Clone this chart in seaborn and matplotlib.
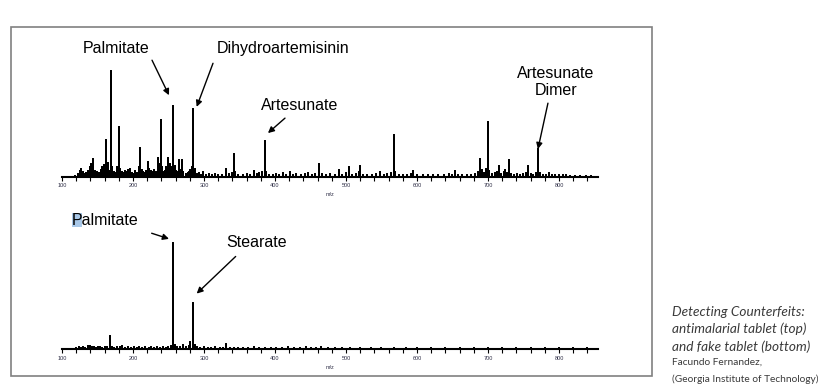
import numpy as np
import pandas as pd
import seaborn as sns
import matplotlib.pyplot as plt
from matplotlib.patches import Rectangle
from matplotlib.ticker import MultipleLocator

# Peak lists (m/z, relative intensity, tallest = 100)
top_mz = [118, 122, 125, 127, 129, 131, 134, 137, 139, 141, 143, 144, 146, 148, 150, 152, 155, 157, 159,
          162, 163, 165, 167, 169, 171, 173, 175, 178, 180, 182, 184, 186, 189, 191, 193, 195, 196, 198,
          201, 203, 205, 208, 210, 212, 214, 217, 219, 221, 223, 225, 227, 229, 231, 233, 235, 237, 239,
          241, 243, 245, 247, 249, 250, 252, 254, 257, 259, 261, 263, 265, 267, 269, 271, 274, 277, 279,
          281, 283, 285, 287, 290, 293, 296, 299, 303, 307, 311, 315, 320, 325, 331, 335, 339, 342, 344,
          348, 355, 360, 365, 370, 374, 378, 382, 386, 388, 392, 397, 401, 406, 411, 415, 421, 425, 430,
          436, 442, 447, 452, 457, 462, 466, 472, 478, 484, 490, 495, 500, 504, 508, 514, 518, 520, 524,
          530, 536, 542, 548, 553, 558, 563, 567, 569, 575, 580, 586, 592, 595, 600, 608, 615, 622, 630,
          638, 645, 650, 653, 658, 664, 670, 676, 682, 686, 689, 691, 694, 697, 700, 702, 706, 710, 713,
          716, 719, 722, 724, 727, 729, 732, 736, 741, 745, 750, 754, 757, 760, 764, 768, 771, 773, 777,
          782, 786, 790, 795, 800, 806, 810, 815, 822, 830, 838, 845]
top_int = [1, 3, 6, 8, 5, 3, 4, 6, 9, 12, 10, 17, 6, 3, 5, 4, 7, 9, 11,
           35, 8, 13, 6, 100, 9, 5, 4, 9, 47, 8, 5, 4, 6, 5, 7, 6, 8, 4,
           3, 6, 4, 9, 27, 7, 5, 4, 6, 14, 8, 6, 5, 7, 4, 5, 18, 12, 54,
           9, 5, 6, 9, 14, 18, 12, 9, 67, 10, 6, 5, 16, 7, 16, 5, 3, 4, 5,
           7, 9, 64, 8, 3, 4, 2, 5, 2, 3, 2, 3, 2, 2, 8, 3, 4, 22, 5,
           2, 2, 3, 2, 6, 3, 4, 5, 34, 5, 2, 2, 3, 2, 4, 2, 5, 2, 3,
           2, 3, 4, 2, 3, 12, 3, 2, 3, 2, 7, 2, 4, 9, 2, 3, 5, 10, 2,
           2, 2, 3, 5, 2, 3, 4, 40, 5, 2, 2, 2, 3, 6, 2, 2, 2, 2, 2,
           2, 3, 2, 6, 2, 2, 2, 2, 3, 5, 17, 7, 4, 8, 52, 6, 3, 4, 5,
           10, 3, 5, 7, 4, 16, 3, 2, 3, 2, 3, 4, 10, 3, 2, 4, 26, 4, 2,
           2, 4, 2, 2, 2, 2, 2, 1, 1, 1, 1, 1]

bottom_mz = [120, 124, 127, 130, 133, 137, 140, 142, 145, 148, 151, 154, 157, 160, 163, 167, 170, 173,
             177, 181, 185, 189, 193, 197, 201, 205, 209, 213, 217, 222, 226, 230, 234, 238, 242, 246,
             250, 253, 256, 257, 259, 262, 266, 271, 275, 279, 281, 284, 285, 287, 290, 295, 300, 305,
             310, 316, 322, 327, 331, 336, 342, 348, 355, 362, 370, 378, 386, 395, 402, 410, 418, 427,
             435, 443, 451, 458, 465, 475, 485, 495, 505, 520, 535, 550, 568, 585, 600, 620, 640, 660,
             680, 700, 720, 740, 760, 780, 800, 820, 840]
bottom_int = [1, 2, 1, 2, 1, 3, 3, 2, 2, 1, 2, 2, 1, 2, 2, 13, 2, 1,
              2, 2, 3, 1, 2, 1, 2, 1, 2, 1, 2, 1, 2, 1, 2, 1, 2, 1,
              2, 3, 18, 100, 4, 2, 2, 4, 2, 3, 7, 7, 44, 4, 2, 1, 2, 1,
              1, 2, 1, 1, 5, 1, 1, 1, 1, 1, 2, 1, 1, 1, 1, 1, 2, 1,
              1, 2, 1, 1, 2, 1, 1, 1, 1, 1, 1, 1, 1, 1, 1, 1, 1, 1,
              1, 1, 1, 1, 1, 1, 1, 1, 1]

tick_values = [100, 200, 300, 400, 500, 600, 700, 800]


def stick_frame(mz, inten):
    # each peak becomes base -> top -> base so one line draws the whole spectrum
    xs, ys = [100], [0]
    for m, h in zip(mz, inten):
        xs += [m, m, m]
        ys += [0, h, 0]
    xs.append(855)
    ys.append(0)
    return pd.DataFrame({'mz': xs, 'intensity': ys})


sns.set_theme(style='white')
plt.rcParams['font.family'] = ['Liberation Sans', 'DejaVu Sans']

fig = plt.figure(figsize=(8.3, 3.9), dpi=100)
ax1 = fig.add_axes([62 / 830, 1 - 177 / 390, 536 / 830, 122 / 390])
ax2 = fig.add_axes([62 / 830, 1 - 349.3 / 390, 536 / 830, 122 / 390])

for ax, mz, inten in [(ax1, top_mz, top_int), (ax2, bottom_mz, bottom_int)]:
    ax.set_facecolor('none')
    sns.lineplot(data=stick_frame(mz, inten), x='mz', y='intensity', sort=False,
                 estimator=None, color='black', lw=1.2, ax=ax)
    ax.set_xlim(100, 855)
    ax.set_ylim(0, 115)
    sns.despine(ax=ax, left=True)
    ax.spines['bottom'].set_linewidth(1.5)
    ax.spines['bottom'].set_color('black')
    ax.set_yticks([])
    ax.set_ylabel('')
    ax.set_xticks(tick_values)
    ax.set_xticklabels([str(t) for t in tick_values])
    ax.xaxis.set_minor_locator(MultipleLocator(20))
    ax.tick_params(axis='x', which='both', direction='out', length=3, width=0.8,
                   bottom=True, labelsize=4, pad=1.5, colors='black')
    ax.tick_params(axis='x', labelcolor='#303048')
    ax.set_xlabel('m/z', fontsize=4, color='#303048', labelpad=3)

# annotations, top spectrum
lab = dict(fontsize=11.5, ha='center', va='center', color='black')
arr = dict(arrowstyle='-|>', color='black', lw=1.0, mutation_scale=9, shrinkA=0, shrinkB=0)
ax1.text(176, 121.4, 'Palmitate', **lab)
ax1.text(411, 121.4, 'Dihydroartemisinin', **lab)
ax1.text(435, 67.7, 'Artesunate', **lab)
ax1.text(796, 89.4, 'Artesunate\nDimer', linespacing=1.15, **lab)
ax1.annotate('', xy=(250.7, 77.1), xytext=(226.8, 110.1), arrowprops=arr, annotation_clip=False)
ax1.annotate('', xy=(289.7, 66.1), xytext=(312.7, 107.2), arrowprops=arr, annotation_clip=False)
ax1.annotate('', xy=(390.1, 41.4), xytext=(414.1, 55.5), arrowprops=arr, annotation_clip=False)
ax1.annotate('', xy=(770.4, 26.3), xytext=(784.5, 69.6), arrowprops=arr, annotation_clip=False)

# annotations, bottom spectrum
ax2.add_patch(Rectangle((71.7 / 830, 1 - 227.3 / 390), 10.6 / 830, 14 / 390,
                        transform=fig.transFigure, color='#a9c8e8', lw=0, zorder=0.5, clip_on=False))
ax2.text(161.3, 121.3, 'Palmitate', **lab)
ax2.text(373.9, 100.9, 'Stearate', **lab)
ax2.annotate('', xy=(250.7, 104.1), xytext=(226.3, 109.4), arrowprops=arr, annotation_clip=False)
ax2.annotate('', xy=(289.7, 52.5), xytext=(344.6, 87.5), arrowprops=arr, annotation_clip=False)

# frame around the two spectra
fig.patches.append(Rectangle((11 / 830, 1 - 376 / 390), 641 / 830, 349 / 390, fill=False,
                             edgecolor='#808080', lw=1.2, transform=fig.transFigure))

# caption on the right
cap = dict(fontsize=9.8, style='italic', color='#3a3a3a', va='center', ha='left',
           family=['Lato', 'DejaVu Sans'])
fig.text(672 / 830, 1 - 311.7 / 390, 'Detecting Counterfeits:', **cap)
fig.text(672 / 830, 1 - 328.5 / 390, 'antimalarial tablet (top)', **cap)
fig.text(672 / 830, 1 - 346.5 / 390, 'and fake tablet (bottom)', **cap)
small = dict(fontsize=7.3, color='#3a3a3a', va='center', ha='left', family=['Lato', 'DejaVu Sans'])
fig.text(672 / 830, 1 - 362 / 390, 'Facundo Fernandez,', **small)
fig.text(672 / 830, 1 - 379 / 390, '(Georgia Institute of Technology)', **small)

fig.savefig('out.png', dpi=100)
